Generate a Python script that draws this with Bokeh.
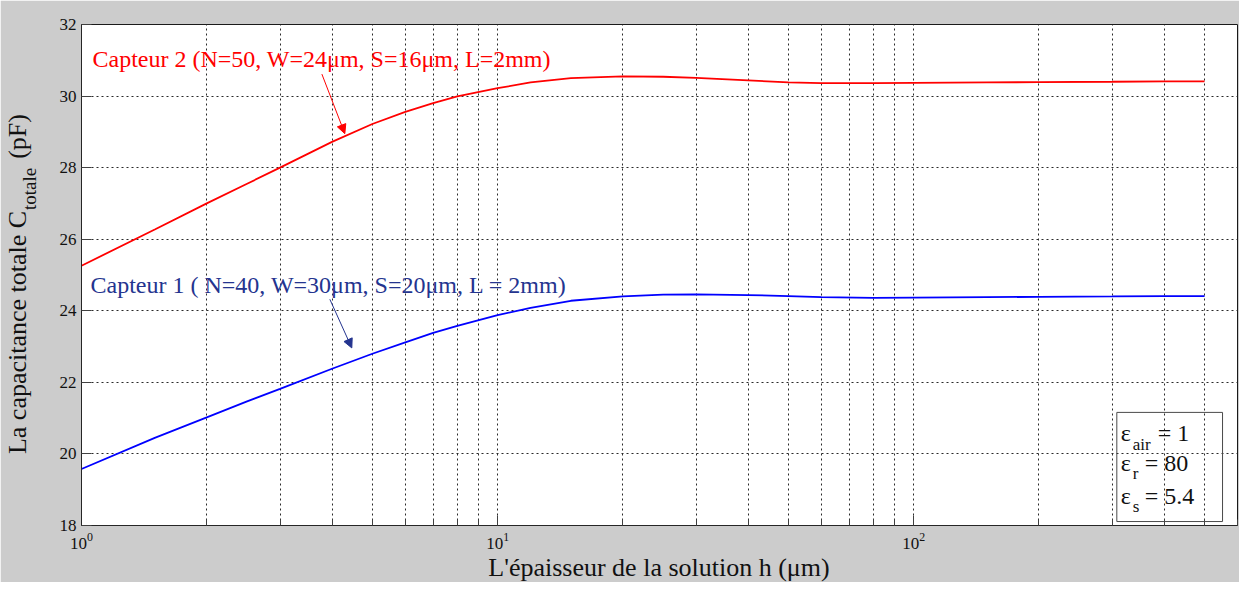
import math
from bokeh.plotting import figure
from bokeh.models import FixedTicker, Label, Arrow, NormalHead, BoxAnnotation
from bokeh.embed import file_html
from bokeh.resources import INLINE

# ---------------- data ----------------
h_um = [1, 1.5, 2, 2.5, 3, 4, 5, 6, 7, 8, 10, 12, 15, 20, 25, 30, 40, 50, 60,
        80, 100, 150, 200, 300, 400, 500]
c_capteur2 = [25.26, 26.27, 27.0, 27.55, 28.0, 28.72, 29.22, 29.56, 29.8, 29.99,
              30.22, 30.38, 30.5, 30.55, 30.54, 30.51, 30.44, 30.38, 30.36,
              30.36, 30.37, 30.38, 30.39, 30.4, 30.41, 30.41]
c_capteur1 = [19.58, 20.45, 21.02, 21.47, 21.82, 22.38, 22.8, 23.12, 23.38, 23.58,
              23.88, 24.08, 24.28, 24.4, 24.45, 24.46, 24.44, 24.41, 24.38,
              24.36, 24.37, 24.38, 24.39, 24.4, 24.41, 24.41]
x_major_ticks = [1, 10, 100]
x_minor_ticks = [2, 3, 4, 5, 6, 7, 8, 9, 20, 30, 40, 50, 60, 70, 80, 90,
                 200, 300, 400, 500, 600]
y_ticks = [18, 20, 22, 24, 26, 28, 30, 32]
x_lim = (1, 600)
y_lim = (18, 32)

label_c2 = "Capteur 2 (N=50, W=24\u03bcm, S=16\u03bcm, L=2mm)"
label_c1 = "Capteur 1 ( N=40, W=30\u03bcm, S=20\u03bcm, L = 2mm)"
x_title = "L'\u00e9paisseur de la solution h (\u03bcm)"
y_title_main = "La capacitance totale C\u2003\u2003(pF)"   # gap keeps room for the subscript
y_title_sub = "totale"
eps_rows = [("air", "= 1"), ("r", "= 80"), ("s", "= 5.4")]

# ---------------- layout ----------------
W, H = 1239, 582
FL, FR, FT, FB = 81, 1237, 24, 525   # frame edges in figure pixels
FONT = "Liberation Serif"
INK = "#111111"
NAVY = "#24348f"
SHIFT_H = 8    # measured baseline offset of horizontal labels (px)
SHIFT_V = 10   # measured baseline offset of rotated labels (px)

# reference-picture pixel -> data (reference frame: x 89..1248, y 32..537)
REF_L, REF_R, REF_T, REF_B = 89, 1248, 32, 537
LX = (math.log10(x_lim[0]), math.log10(x_lim[1]))


def rx(px):
    frac = (px - REF_L) / (REF_R - REF_L)
    return 10 ** (LX[0] + frac * (LX[1] - LX[0]))


def ry(py):
    frac = (py - REF_T) / (REF_B - REF_T)
    return y_lim[1] - frac * (y_lim[1] - y_lim[0])


def my(fy):
    """own figure pixel y -> data y"""
    frac = (fy - FT) / (FB - FT)
    return y_lim[1] - frac * (y_lim[1] - y_lim[0])


p = figure(width=W, height=H, x_axis_type="log", x_range=x_lim, y_range=y_lim,
           output_backend="svg", toolbar_location=None,
           min_border_left=FL, min_border_right=W - FR,
           min_border_top=FT, min_border_bottom=H - FB)
p.border_fill_color = "#cccccc"
p.background_fill_color = "white"
p.outline_line_color = "#1a1a1a"
p.outline_line_width = 1

# axes
p.xaxis.ticker = FixedTicker(ticks=x_major_ticks, minor_ticks=x_minor_ticks)
p.yaxis.ticker = FixedTicker(ticks=y_ticks)
for ax in (p.xaxis[0], p.yaxis[0]):
    ax.axis_line_color = "#262626"
    ax.major_tick_line_color = "#404040"
    ax.major_tick_in = 10
    ax.major_tick_out = 0
    ax.minor_tick_in = 6
    ax.minor_tick_out = 0
    ax.major_label_text_font = FONT
    ax.major_label_text_font_size = "17px"
    ax.major_label_text_color = INK
p.yaxis.minor_tick_line_color = None
p.xaxis.minor_tick_line_color = "#404040"
p.xaxis.major_label_standoff = 7
p.yaxis.major_label_standoff = 5

# grid (MATLAB-like dotted)
for g in (p.xgrid[0], p.ygrid[0]):
    g.grid_line_color = "#2a2a2a"
    g.grid_line_dash = "2 3"
    g.grid_line_width = 1
p.xgrid.minor_grid_line_color = "#2a2a2a"
p.xgrid.minor_grid_line_dash = "2 3"
p.ygrid.minor_grid_line_color = None

# curves
p.line(h_um, c_capteur2, line_color="#ff0000", line_width=1.8)
p.line(h_um, c_capteur1, line_color="#0000ff", line_width=1.8)

# annotations
p.add_layout(Label(x=rx(100), y=ry(75 - SHIFT_H), text=label_c2, text_font=FONT,
                   text_font_size="24px", text_color="#ff0000",
                   text_baseline="alphabetic"))
p.add_layout(Label(x=rx(98), y=ry(303 - SHIFT_H), text=label_c1, text_font=FONT,
                   text_font_size="24px", text_color=NAVY,
                   text_baseline="alphabetic"))
p.add_layout(Arrow(end=NormalHead(size=9, fill_color="#ff0000", line_color="#ff0000"),
                   x_start=rx(330), y_start=ry(82), x_end=rx(353), y_end=ry(142),
                   line_color="#ff0000", line_width=1))
p.add_layout(Arrow(end=NormalHead(size=9, fill_color=NAVY, line_color=NAVY),
                   x_start=rx(338), y_start=ry(309), x_end=rx(360), y_end=ry(358),
                   line_color=NAVY, line_width=1))

# epsilon box
p.add_layout(BoxAnnotation(left=rx(1127), right=rx(1233), top=ry(423), bottom=ry(533),
                           fill_color=None, line_color="#4a4a4a", line_width=1,
                           line_alpha=1))
row_base = [452, 482, 515]
rest_x = [1168, 1155, 1155]
for (sub, rest), yb, px in zip(eps_rows, row_base, rest_x):
    p.add_layout(Label(x=rx(1131), y=ry(yb - SHIFT_H), text="\u03b5", text_font=FONT,
                       text_font_size="24px", text_color=INK,
                       text_baseline="alphabetic"))
    p.add_layout(Label(x=rx(1143), y=ry(yb + 11 - SHIFT_H), text=sub, text_font=FONT,
                       text_font_size="17px", text_color=INK,
                       text_baseline="alphabetic"))
    p.add_layout(Label(x=rx(px), y=ry(yb - SHIFT_H), text=rest, text_font=FONT,
                       text_font_size="24px", text_color=INK,
                       text_baseline="alphabetic"))

# x axis title (bottom side panel -> not clipped by the frame)
p.add_layout(Label(x=rx(668), y=my(575 - SHIFT_H), text=x_title, text_font=FONT,
                   text_font_size="26px", text_color=INK,
                   text_align="center", text_baseline="alphabetic"), "below")

# y axis title (rotated, subscript as a second label) in the left side panel
p.add_layout(Label(x=rx(35 - SHIFT_V), y=ry(465), text=y_title_main,
                   angle=math.pi / 2, text_font=FONT, text_font_size="26px",
                   text_color=INK, text_align="left", text_baseline="alphabetic"), "left")
p.add_layout(Label(x=rx(47 - SHIFT_V), y=ry(219), text=y_title_sub,
                   angle=math.pi / 2, text_font=FONT, text_font_size="19px",
                   text_color=INK, text_align="left", text_baseline="alphabetic"), "left")

open("out.html", "w").write(file_html(p, INLINE))
